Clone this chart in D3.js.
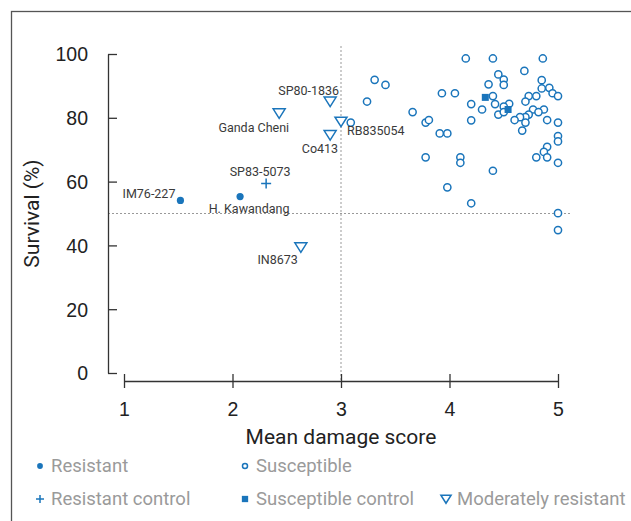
<!DOCTYPE html>
<html>
<head>
<meta charset="utf-8">
<script src="https://cdn.jsdelivr.net/npm/d3@7"></script>
<style>
  body { margin: 0; background: #fff; }
  svg { display: block; font-family: Roboto, Lato, sans-serif; }
</style>
</head>
<body>
<div id="chart"></div>
<script>
// susceptible lines (open circles)
var susceptibleX = [4.15, 4.40, 4.86, 4.69, 4.45, 4.50, 4.50, 3.31, 3.41, 4.36, 4.85, 4.85, 4.92, 4.95, 5.00,
  3.93, 4.05, 4.40, 3.24, 4.20, 4.42, 4.55, 4.50, 4.73, 4.80, 4.70, 3.66, 4.30, 4.45, 4.50, 4.77, 4.87,
  4.82, 4.73, 4.70, 4.65, 4.60, 4.70, 4.90, 5.00, 4.20, 3.09, 3.78, 3.81, 4.67, 3.91, 3.98, 5.00, 5.00,
  4.90, 4.87, 3.78, 4.10, 4.10, 4.80, 4.90, 5.00, 4.40, 3.98, 4.20, 5.00, 5.00];
var susceptibleY = [98.6, 98.6, 98.6, 94.7, 93.6, 92.0, 90.3, 91.9, 90.3, 90.5, 91.8, 89.2, 89.4, 87.7, 86.8,
  87.7, 87.7, 86.8, 85.1, 84.3, 84.3, 84.4, 83.5, 86.8, 86.8, 85.1, 81.8, 82.6, 81.0, 81.8, 82.6, 82.6,
  81.8, 81.0, 80.2, 80.2, 79.3, 78.5, 79.3, 78.5, 79.2, 78.5, 78.5, 79.3, 76.0, 75.1, 75.1, 74.3, 72.6,
  70.9, 69.3, 67.6, 67.6, 65.9, 67.6, 67.6, 65.9, 63.4, 58.2, 53.2, 50.1, 44.8];

// susceptible controls (filled squares)
var suscControlX = [4.33, 4.54];
var suscControlY = [86.4, 82.6];

// resistant (filled dots)
var resistantNames = ['IM76-227', 'H. Kawandang'];
var resistantX = [1.52, 2.07];
var resistantY = [54.1, 55.3];

// resistant control (plus)
var resControlNames = ['SP83-5073'];
var resControlX = [2.31];
var resControlY = [59.4];

// moderately resistant (open triangles)
var moderateNames = ['SP80-1836', 'Ganda Cheni', 'RB835054', 'Co413', 'IN8673'];
var moderateX = [2.90, 2.43, 3.00, 2.90, 2.63];
var moderateY = [85.1, 81.4, 78.8, 74.6, 39.4];

var xTicks = [1, 2, 3, 4, 5];
var yTicks = [0, 20, 40, 60, 80, 100];
var damageCut = 3, survivalCut = 50;

// label placement relative to the marker
var labelPos = {
  'IM76-227': {dx: -5, dy: -7, anchor: 'end'},
  'H. Kawandang': {dx: 9, dy: 12, anchor: 'middle'},
  'SP83-5073': {dx: -6, dy: -12, anchor: 'middle'},
  'SP80-1836': {dx: 9, dy: -11, anchor: 'end'},
  'Ganda Cheni': {dx: 10, dy: 14, anchor: 'end'},
  'RB835054': {dx: 6, dy: 9, anchor: 'start'},
  'Co413': {dx: 8, dy: 14, anchor: 'end'},
  'IN8673': {dx: -3, dy: 12, anchor: 'end'}
};

var blue = '#1a75bb', axisColor = '#333', legendColor = '#9a9a9a';
var W = 631, H = 521;

var svg = d3.select('#chart').append('svg').attr('width', W).attr('height', H);

// frame
svg.append('rect')
  .attr('x', 11.5).attr('y', 11.5).attr('width', 650).attr('height', 540)
  .attr('fill', 'none').attr('stroke', '#555').attr('stroke-width', 1.3);

var x = d3.scaleLinear().domain([1, 5]).range([124, 558]);
var y = d3.scaleLinear().domain([0, 100]).range([373, 54]);
var xAxisY = 381, yAxisX = 108;

// reference lines
svg.append('line')
  .attr('x1', x(damageCut)).attr('x2', x(damageCut))
  .attr('y1', 46).attr('y2', xAxisY)
  .attr('stroke', '#999').attr('stroke-dasharray', '2,2');
svg.append('line')
  .attr('x1', yAxisX).attr('x2', 572)
  .attr('y1', y(survivalCut)).attr('y2', y(survivalCut))
  .attr('stroke', '#999').attr('stroke-dasharray', '2,2');

// axes
var xAxis = svg.append('g')
  .attr('transform', 'translate(0,' + xAxisY + ')')
  .call(d3.axisBottom(x).tickValues(xTicks).tickFormat(d3.format('d')).tickSizeOuter(0).tickSizeInner(7).tickPadding(14));
var yAxis = svg.append('g')
  .attr('transform', 'translate(' + yAxisX + ',0)')
  .call(d3.axisLeft(y).tickValues(yTicks).tickSizeOuter(0).tickSizeInner(8).tickPadding(12));

[xAxis, yAxis].forEach(function(g) {
  g.select('.domain').attr('stroke', axisColor).attr('stroke-width', 1.3);
  g.selectAll('.tick line').attr('stroke', axisColor).attr('stroke-width', 1.3);
  g.selectAll('.tick text').attr('fill', '#222').style('font-size', '19.5px');
});
xAxis.selectAll('.tick line').attr('y1', -7);
yAxis.selectAll('.tick line').attr('x2', 9);
yAxis.selectAll('.tick text').attr('dy', '0.35em');

svg.append('text')
  .attr('x', x(3)).attr('y', 444)
  .attr('text-anchor', 'middle').attr('fill', '#222').style('font-size', '21px')
  .text('Mean damage score');
svg.append('text')
  .attr('transform', 'translate(39,' + y(50) + ') rotate(-90)')
  .attr('text-anchor', 'middle').attr('fill', '#222').style('font-size', '21px')
  .text('Survival (%)');

// marker painters, s scales the size
function circleOpen(g, s) { g.append('circle').attr('r', 3.6 * s).attr('fill', '#fff').attr('stroke', blue).attr('stroke-width', 1.5); }
function dot(g, s) { g.append('circle').attr('r', 3.6 * s).attr('fill', blue); }
function square(g, s) { g.append('rect').attr('x', -3.5 * s).attr('y', -3.5 * s).attr('width', 7 * s).attr('height', 7 * s).attr('fill', blue); }
function plus(g, s) { g.append('path').attr('d', 'M' + (-5 * s) + ',0H' + (5 * s) + 'M0,' + (-5 * s) + 'V' + (5 * s)).attr('stroke', blue).attr('stroke-width', 1.5); }
function triangle(g, s) { g.append('path').attr('d', 'M' + (-6 * s) + ',' + (-4.5 * s) + 'L' + (6 * s) + ',' + (-4.5 * s) + 'L0,' + (5 * s) + 'Z').attr('fill', '#fff').attr('stroke', blue).attr('stroke-width', 1.5); }

function plot(xs, ys, names, painter) {
  var pts = xs.map(function(d, i) { return {x: d, y: ys[i], name: names ? names[i] : null}; });
  var g = svg.append('g').selectAll('g').data(pts).enter().append('g')
    .attr('transform', function(d) { return 'translate(' + x(d.x) + ',' + y(d.y) + ')'; });
  g.each(function() { painter(d3.select(this), 1); });
  g.filter(function(d) { return d.name; }).append('text')
    .attr('x', function(d) { return labelPos[d.name].dx; })
    .attr('y', function(d) { return labelPos[d.name].dy; })
    .attr('dy', '0.35em')
    .attr('text-anchor', function(d) { return labelPos[d.name].anchor; })
    .attr('fill', '#3a3a3a').style('font-size', '12.5px')
    .text(function(d) { return d.name; });
}

plot(susceptibleX, susceptibleY, null, circleOpen);
plot(suscControlX, suscControlY, null, square);
plot(moderateX, moderateY, moderateNames, triangle);
plot(resControlX, resControlY, resControlNames, plus);
plot(resistantX, resistantY, resistantNames, dot);

// legend
var legendItems = [
  {label: 'Resistant', px: 40, py: 466, painter: dot, s: 0.8},
  {label: 'Susceptible', px: 245, py: 466, painter: circleOpen, s: 0.7},
  {label: 'Resistant control', px: 40, py: 499, painter: plus, s: 0.8},
  {label: 'Susceptible control', px: 245, py: 499, painter: square, s: 0.9},
  {label: 'Moderately resistant', px: 446, py: 499, painter: triangle, s: 0.85}
];
var lg = svg.append('g').selectAll('g').data(legendItems).enter().append('g')
  .attr('transform', function(d) { return 'translate(' + d.px + ',' + d.py + ')'; });
lg.each(function(d) { d.painter(d3.select(this), d.s); });
lg.append('text')
  .attr('x', 11)
  .attr('dy', '0.35em')
  .attr('fill', legendColor).style('font-size', '18.5px')
  .text(function(d) { return d.label; });
</script>
</body>
</html>
